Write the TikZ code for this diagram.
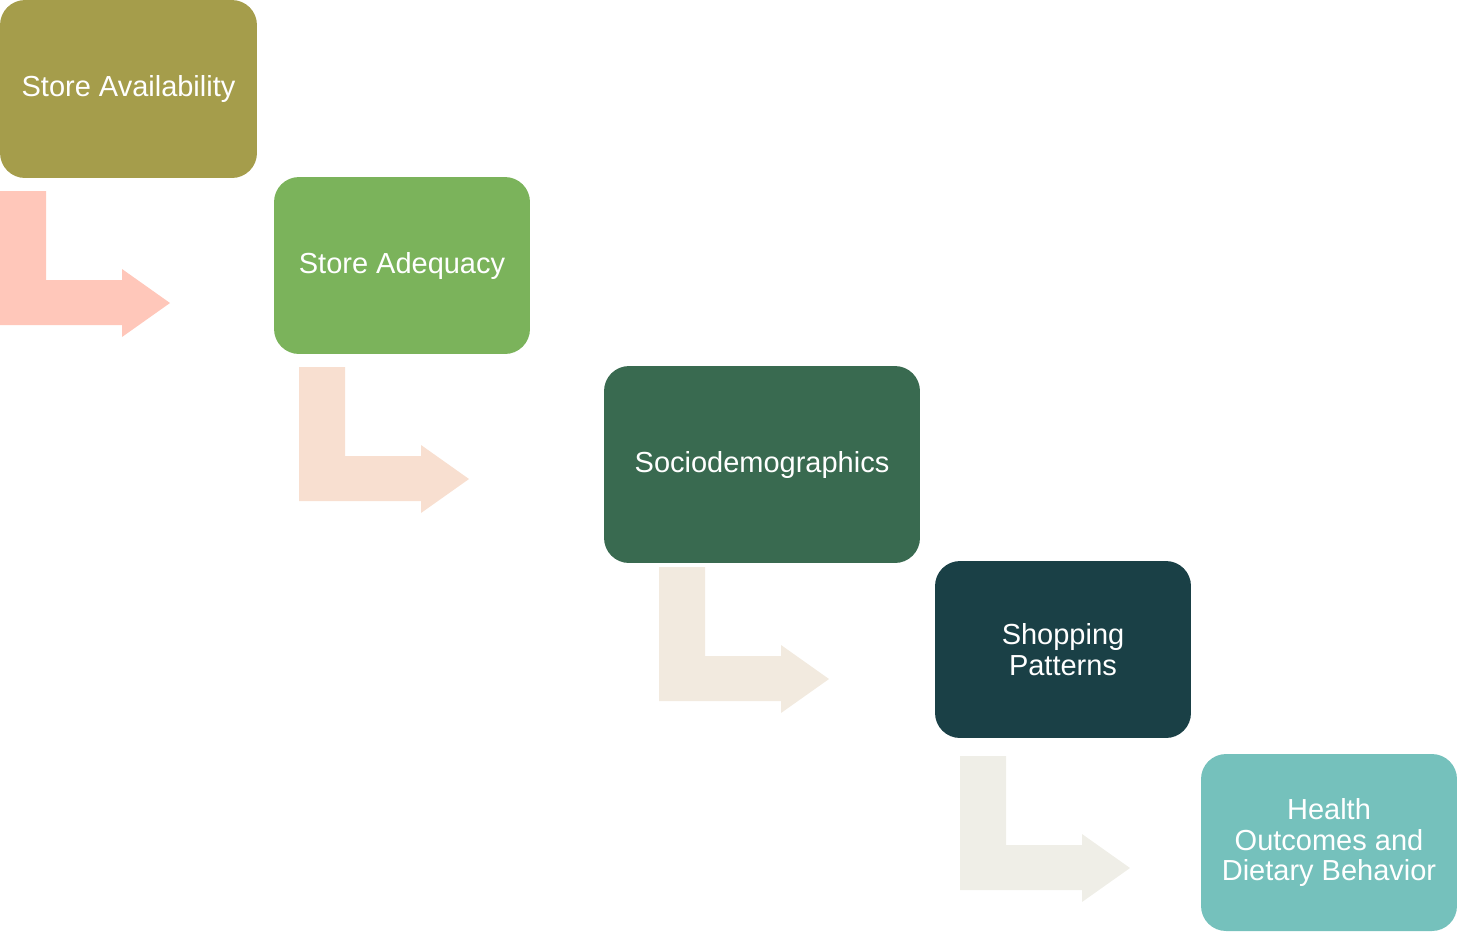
\documentclass[tikz,border=0pt]{standalone}
\usepackage{fontspec}
\setmainfont{Liberation Sans}

\definecolor{olive}{HTML}{A59D4B}
\definecolor{leaf}{HTML}{7BB35B}
\definecolor{forest}{HTML}{396A50}
\definecolor{deepteal}{HTML}{1A4046}
\definecolor{seafoam}{HTML}{75C1BC}
\definecolor{arrowA}{HTML}{FFC7BA}
\definecolor{arrowB}{HTML}{F8DFD0}
\definecolor{arrowC}{HTML}{F2EADF}
\definecolor{arrowD}{HTML}{EFEEE7}

\tikzset{
    stage/.style={rounded corners=0.5cm, inner sep=4pt, text=white, align=center,
        font=\fontsize{16.5}{17.4}\selectfont}
}

\begin{document}
\begin{tikzpicture}[x=0.02cm, y=-0.02cm]
    \useasboundingbox (0,0) rectangle (1457,931);

    % Draw stages
    \node[stage, fill=olive, minimum width=5.14cm, minimum height=3.56cm] (avail) at (128.5,89) {Store Availability};
    \node[stage, fill=leaf, minimum width=5.12cm, minimum height=3.54cm] (adequacy) at (402,265.5) {Store Adequacy};
    \node[stage, fill=forest, minimum width=6.32cm, minimum height=3.94cm] (socio) at (762,464.5) {Sociodemographics};
    \node[stage, fill=deepteal, minimum width=5.12cm, minimum height=3.54cm] (shopping) at (1063,649.5) {Shopping\\Patterns};
    \node[stage, fill=seafoam, minimum width=5.12cm, minimum height=3.54cm] (health) at (1329,842.5) {Health\\Outcomes and\\Dietary Behavior};

    % Draw bent arrows (bottom left corner / colour)
    \foreach \x/\y/\c in {0/325/arrowA, 299/501/arrowB, 659/701/arrowC, 960/890/arrowD}
        \fill[\c, shift={(\x,\y)}] (0,0) -- (0,-134) -- (46,-134) -- (46,-45) -- (122,-45)
            -- (122,-56) -- (170,-22) -- (122,12) -- (122,0) -- cycle;
\end{tikzpicture}
\end{document}
